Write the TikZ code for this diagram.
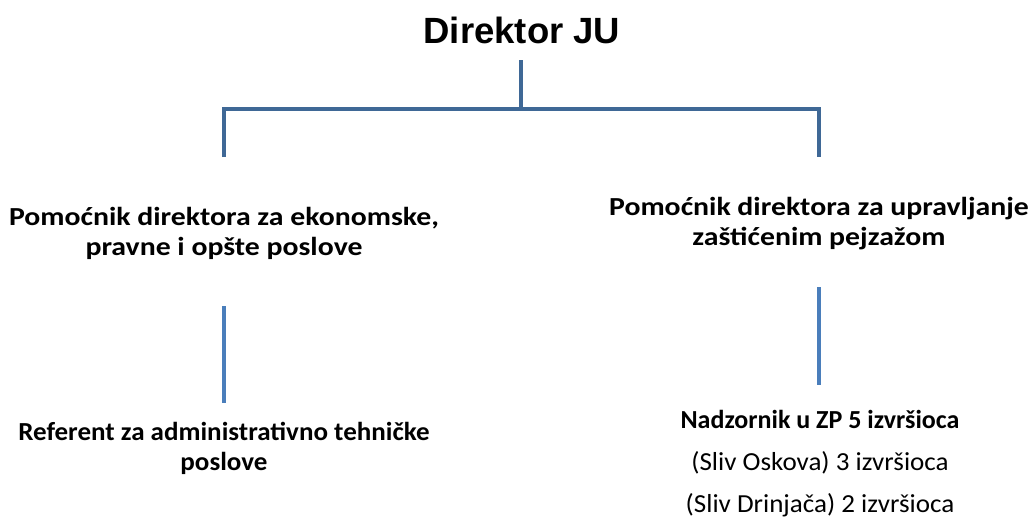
\documentclass[tikz,border=0pt]{standalone}
\usepackage{fontspec}
\setmainfont{Carlito}
\newfontfamily\arialfont{Liberation Sans}
\newfontfamily\widefont[FakeStretch=1.145]{Carlito}
\newfontfamily\lowfont[FakeStretch=1.04]{Carlito}
\definecolor{topblue}{HTML}{3F6896}
\definecolor{botblue}{HTML}{4A7EBB}
\tikzset{
  orgline/.style={line width=4.5pt, draw=topblue},
  subline/.style={line width=4.5pt, draw=botblue},
  role/.style={align=center, inner sep=0pt, font=\widefont\fontsize{26}{30}\selectfont\bfseries},
  lowrole/.style={align=center, inner sep=0pt, font=\lowfont\fontsize{26}{30}\selectfont\bfseries},
}
\begin{document}
\begin{tikzpicture}[x=1pt,y=-1pt]
\useasboundingbox (0,0) rectangle (1031,517);
\node[inner sep=0pt, font=\arialfont\fontsize{36.5}{40}\selectfont\bfseries] (dir) at (522,30) {Direktor JU};
\coordinate (d0) at (521,60);
\coordinate (d1) at (521,109);
\coordinate (bl) at (224,109);
\coordinate (br) at (819,109);
\coordinate (l1) at (224,157);
\coordinate (r1) at (819,157);
\draw[orgline] (d0) -- (d1);
\draw[orgline, line join=miter] (l1) -- (bl) -- (br) -- (r1);

\node[role] (left) at (224,233) {Pomoćnik direktora za ekonomske,\\pravne i opšte poslove};
\node[role] (right) at (819,224) {Pomoćnik direktora za upravljanje\\zaštićenim pejzažom};

\coordinate (la) at (224,306);
\coordinate (lb) at (224,403);
\coordinate (ra) at (819,287);
\coordinate (rb) at (819,385);
\draw[subline] (la) -- (lb);
\draw[subline] (ra) -- (rb);

\node[lowrole] (ref) at (224,448) {Referent za administrativno tehničke\\poslove};
\node[align=center, inner sep=0pt, font=\lowfont\fontsize{26}{42}\selectfont] (nad) at (820,464) {{\fontspec{Carlito}\bfseries Nadzornik u ZP 5 izvršioca}\\(Sliv Oskova) 3 izvršioca\\(Sliv Drinjača) 2 izvršioca};
\end{tikzpicture}
\end{document}
